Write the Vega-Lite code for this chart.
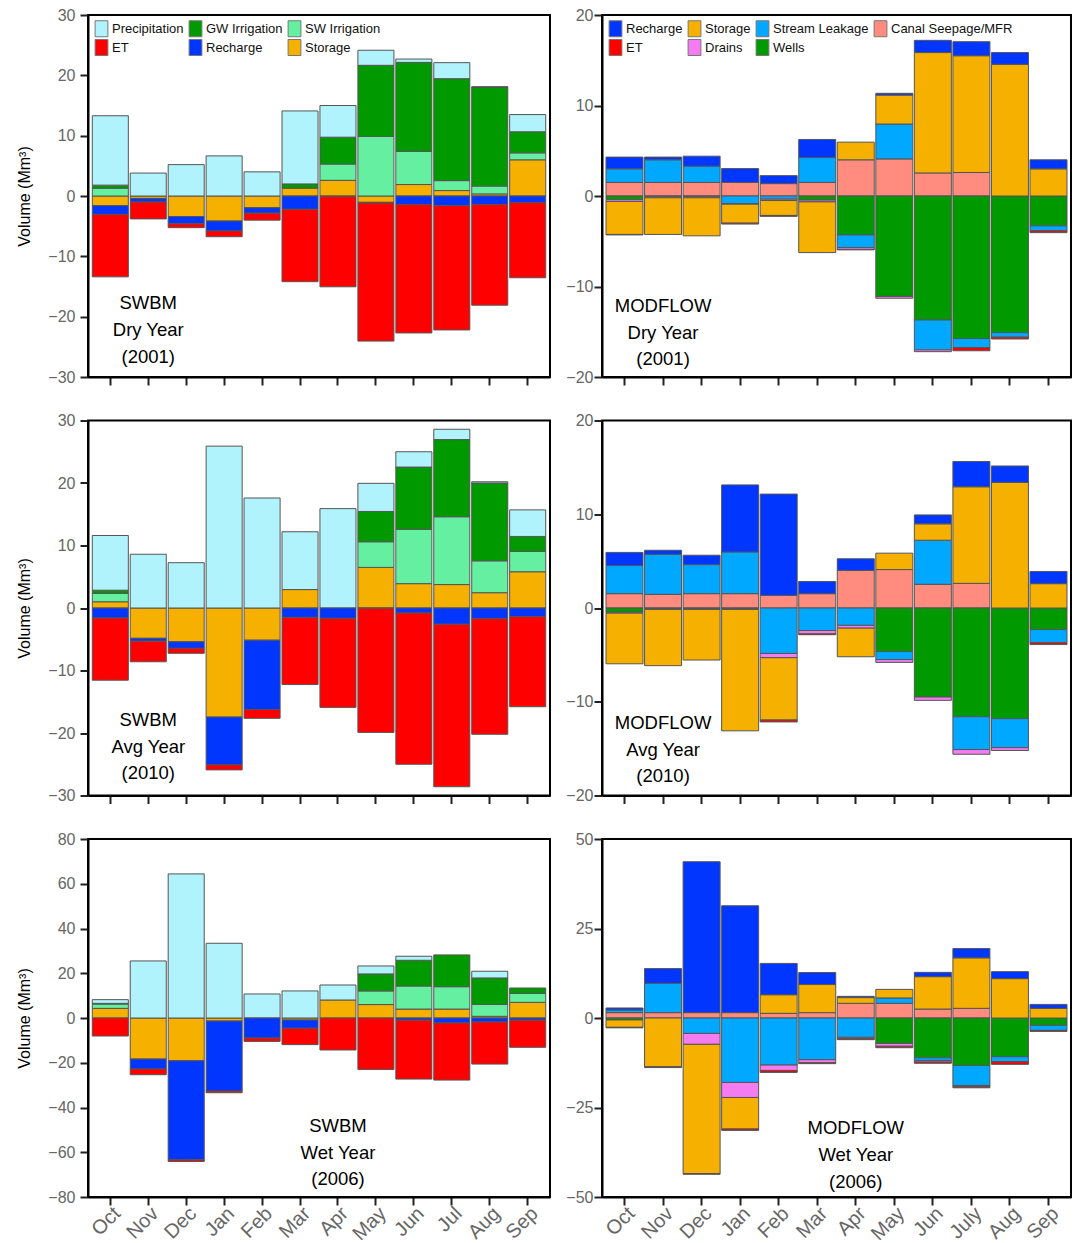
{
  "$schema": "https://vega.github.io/schema/vega-lite/v6.json",
  "background": "white",
  "padding": {"left": 15, "top": 6, "right": 2, "bottom": 0},
  "bounds": "flush",
  "columns": 2,
  "spacing": {"row": 43.5, "column": 52},
  "resolve": {"scale": {"color": "independent"}, "legend": {"color": "independent"}},
  "config": {
    "font": "Liberation Sans",
    "view": {"stroke": "#000", "strokeWidth": 2},
    "axis": {
      "grid": false,
      "domainColor": "#000",
      "domainWidth": 2,
      "tickColor": "#222",
      "tickWidth": 2,
      "tickSize": 8,
      "labelColor": "#666",
      "labelFont": "Liberation Sans",
      "labelFontSize": 16,
      "labelPadding": 4,
      "titleFont": "Liberation Sans",
      "titleFontSize": 16,
      "titleFontWeight": "normal",
      "titleColor": "#000"
    },
    "legend": {
      "orient": "top-left",
      "direction": "horizontal",
      "offset": 5,
      "padding": 0,
      "title": null,
      "symbolType": "M-0.8,-1H0.8V1H-0.8Z",
      "symbolSize": 256,
      "symbolStrokeColor": "#777",
      "symbolStrokeWidth": 1,
      "symbolOpacity": 1,
      "labelFont": "Liberation Sans",
      "labelFontSize": 13,
      "labelColor": "#111",
      "labelOffset": 2,
      "labelLimit": 0,
      "rowPadding": -6,
      "columnPadding": 3
    },
    "text": {"font": "Liberation Sans", "color": "#000"}
  },
  "datasets": {
    "swbm_parts": [
      {"key": "S", "name": "Storage", "rank": 0},
      {"key": "SW", "name": "SW Irrigation", "rank": 1},
      {"key": "GW", "name": "GW Irrigation", "rank": 2},
      {"key": "P", "name": "Precipitation", "rank": 3},
      {"key": "R", "name": "Recharge", "rank": 4},
      {"key": "ET", "name": "ET", "rank": 5}
    ],
    "mf_parts": [
      {"key": "CS", "name": "Canal Seepage/MFR", "rank": 0},
      {"key": "W", "name": "Wells", "rank": 1},
      {"key": "SL", "name": "Stream Leakage", "rank": 2},
      {"key": "D", "name": "Drains", "rank": 3},
      {"key": "S", "name": "Storage", "rank": 4},
      {"key": "R", "name": "Recharge", "rank": 5},
      {"key": "ET", "name": "ET", "rank": 6}
    ],
    "swbm_dry": [
      {"m": "Oct", "S": -1.6, "SW": 1.3, "GW": 0.5, "P": 11.5, "R": -1.45, "ET": -10.35},
      {"m": "Nov", "S": -0.4, "P": 3.8, "R": -0.6, "ET": -2.8},
      {"m": "Dec", "S": -3.4, "P": 5.2, "R": -1.2, "ET": -0.65},
      {"m": "Jan", "S": -4.15, "P": 6.65, "R": -1.65, "ET": -0.95},
      {"m": "Feb", "S": -1.95, "P": 4.0, "R": -0.9, "ET": -1.15},
      {"m": "Mar", "S": 1.3, "GW": 0.7, "P": 12.1, "R": -2.2, "ET": -12.0},
      {"m": "Apr", "S": 2.6, "SW": 2.7, "GW": 4.45, "P": 5.25, "R": -0.1, "ET": -14.95},
      {"m": "May", "S": -1.05, "SW": 9.86, "GW": 11.8, "P": 2.5, "R": -0.1, "ET": -22.9},
      {"m": "Jun", "S": 1.9, "SW": 5.5, "GW": 14.75, "P": 0.55, "R": -1.4, "ET": -21.3},
      {"m": "Jul", "S": 0.9, "SW": 1.65, "GW": 16.9, "P": 2.65, "R": -1.6, "ET": -20.6},
      {"m": "Aug", "S": 0.35, "SW": 1.3, "GW": 16.4, "P": 0.05, "R": -1.4, "ET": -16.7},
      {"m": "Sep", "S": 6.0, "SW": 1.15, "GW": 3.5, "P": 2.85, "R": -1.1, "ET": -12.45}
    ],
    "swbm_avg": [
      {"m": "Oct", "S": 1.0, "SW": 1.35, "GW": 0.5, "P": 8.75, "R": -1.6, "ET": -9.95},
      {"m": "Nov", "S": -4.85, "P": 8.6, "R": -0.45, "ET": -3.3},
      {"m": "Dec", "S": -5.4, "P": 7.25, "R": -1.05, "ET": -0.8},
      {"m": "Jan", "S": -17.45, "P": 25.9, "R": -7.65, "ET": -0.8},
      {"m": "Feb", "S": -5.15, "P": 17.6, "R": -11.1, "ET": -1.4},
      {"m": "Mar", "S": 2.95, "P": 9.25, "R": -1.5, "ET": -10.75},
      {"m": "Apr", "P": 15.9, "R": -1.65, "ET": -14.25},
      {"m": "May", "S": 6.5, "SW": 4.1, "GW": 4.85, "P": 4.5, "R": -0.05, "ET": -19.85},
      {"m": "Jun", "S": 3.9, "SW": 8.7, "GW": 9.95, "P": 2.45, "R": -0.8, "ET": -24.2},
      {"m": "Jul", "S": 3.75, "SW": 10.85, "GW": 12.35, "P": 1.65, "R": -2.6, "ET": -26.0},
      {"m": "Aug", "S": 2.45, "SW": 5.1, "GW": 12.45, "P": 0.2, "R": -1.7, "ET": -18.5},
      {"m": "Sep", "S": 5.8, "SW": 3.25, "GW": 2.4, "P": 4.25, "R": -1.4, "ET": -14.4}
    ],
    "swbm_wet": [
      {"m": "Oct", "S": 4.3, "SW": 1.95, "GW": 0.3, "P": 1.65, "ET": -8.05},
      {"m": "Nov", "S": -18.35, "P": 25.5, "R": -4.45, "ET": -2.55},
      {"m": "Dec", "S": -19.1, "P": 64.4, "R": -44.3, "ET": -0.75},
      {"m": "Jan", "S": -1.35, "P": 33.4, "R": -31.3, "ET": -0.75},
      {"m": "Feb", "P": 10.74, "R": -8.95, "ET": -1.5},
      {"m": "Mar", "S": -0.9, "P": 12.1, "R": -3.7, "ET": -7.3},
      {"m": "Apr", "S": 8.05, "P": 6.7, "ET": -14.3},
      {"m": "May", "S": 6.0, "SW": 6.1, "GW": 7.6, "P": 3.55, "ET": -23.0},
      {"m": "Jun", "S": 4.0, "SW": 10.3, "GW": 11.5, "P": 1.8, "R": -1.0, "ET": -26.3},
      {"m": "Jul", "S": 4.0, "SW": 10.0, "GW": 14.2, "R": -2.2, "ET": -25.55},
      {"m": "Aug", "S": 0.75, "SW": 5.35, "GW": 11.8, "P": 3.0, "R": -1.8, "ET": -18.8},
      {"m": "Sep", "S": 7.0, "SW": 4.0, "GW": 2.4, "R": -1.0, "ET": -12.1}
    ],
    "mf_dry": [
      {"m": "Oct", "CS": 1.5, "SL": 1.5, "R": 1.3, "W": -0.4, "D": -0.2, "S": -3.65, "ET": -0.05},
      {"m": "Nov", "CS": 1.5, "SL": 2.5, "R": 0.3, "W": -0.05, "D": -0.15, "S": -4.05},
      {"m": "Dec", "CS": 1.5, "SL": 1.8, "R": 1.1, "W": -0.05, "D": -0.15, "S": -4.2},
      {"m": "Jan", "CS": 1.5, "R": 1.53, "SL": -0.85, "D": -0.05, "S": -2.1, "ET": -0.1},
      {"m": "Feb", "CS": 1.37, "R": 0.88, "SL": -0.35, "D": -0.15, "S": -1.65, "ET": -0.1},
      {"m": "Mar", "CS": 1.5, "SL": 2.75, "R": 2.0, "W": -0.45, "D": -0.2, "S": -5.6},
      {"m": "Apr", "CS": 4.0, "S": 1.95, "W": -4.3, "SL": -1.4, "D": -0.2, "ET": -0.05},
      {"m": "May", "CS": 4.1, "SL": 3.85, "S": 3.2, "R": 0.2, "W": -11.1, "D": -0.2},
      {"m": "Jun", "CS": 2.55, "S": 13.3, "R": 1.35, "W": -13.7, "SL": -3.3, "D": -0.2},
      {"m": "Jul", "CS": 2.6, "S": 12.9, "R": 1.55, "W": -15.75, "SL": -1.0, "ET": -0.35},
      {"m": "Aug", "S": 14.55, "R": 1.3, "W": -15.1, "SL": -0.5, "ET": -0.2},
      {"m": "Sep", "S": 3.0, "R": 1.0, "W": -3.3, "SL": -0.55, "ET": -0.2}
    ],
    "mf_avg": [
      {"m": "Oct", "CS": 1.53, "SL": 3.0, "R": 1.4, "W": -0.45, "D": -0.1, "S": -5.4},
      {"m": "Nov", "CS": 1.46, "SL": 4.27, "R": 0.43, "W": -0.05, "D": -0.1, "S": -6.0},
      {"m": "Dec", "CS": 1.53, "SL": 3.1, "R": 1.0, "W": -0.05, "D": -0.1, "S": -5.4},
      {"m": "Jan", "CS": 1.53, "SL": 4.45, "R": 7.15, "W": -0.05, "D": -0.1, "S": -12.95},
      {"m": "Feb", "CS": 1.35, "R": 10.8, "SL": -4.85, "D": -0.45, "S": -6.65, "ET": -0.2},
      {"m": "Mar", "CS": 1.53, "R": 1.3, "SL": -2.4, "D": -0.35, "ET": -0.1},
      {"m": "Apr", "CS": 4.0, "R": 1.25, "SL": -1.85, "D": -0.3, "S": -3.05},
      {"m": "May", "CS": 4.1, "S": 1.75, "W": -4.65, "SL": -0.85, "D": -0.3},
      {"m": "Jun", "CS": 2.53, "SL": 4.7, "S": 1.75, "R": 0.95, "W": -9.5, "D": -0.35},
      {"m": "Jul", "CS": 2.63, "S": 10.3, "R": 2.7, "W": -11.6, "SL": -3.5, "D": -0.5},
      {"m": "Aug", "S": 13.4, "R": 1.75, "W": -11.8, "SL": -3.1, "D": -0.3},
      {"m": "Sep", "S": 2.6, "R": 1.3, "W": -2.3, "SL": -1.4, "ET": -0.2}
    ],
    "mf_wet": [
      {"m": "Oct", "CS": 1.5, "SL": 0.75, "R": 0.55, "W": -0.55, "S": -2.05, "ET": -0.15},
      {"m": "Nov", "CS": 1.5, "SL": 8.2, "R": 4.1, "S": -13.6, "ET": -0.25},
      {"m": "Dec", "CS": 1.5, "R": 42.15, "SL": -4.3, "D": -3.05, "S": -36.1, "ET": -0.2},
      {"m": "Jan", "CS": 1.5, "R": 29.85, "SL": -18.0, "D": -4.2, "S": -8.8, "ET": -0.4},
      {"m": "Feb", "CS": 1.3, "S": 5.2, "R": 8.75, "SL": -13.15, "D": -1.5, "ET": -0.55},
      {"m": "Mar", "CS": 1.5, "S": 7.85, "R": 3.35, "SL": -11.65, "D": -0.85, "ET": -0.25},
      {"m": "Apr", "CS": 4.1, "S": 1.6, "R": 0.35, "SL": -5.4, "D": -0.4, "ET": -0.25},
      {"m": "May", "CS": 4.1, "SL": 1.5, "S": 2.4, "W": -7.1, "D": -0.8, "ET": -0.4},
      {"m": "Jun", "CS": 2.5, "S": 9.05, "R": 1.2, "W": -11.1, "SL": -0.75, "D": -0.45, "ET": -0.35},
      {"m": "Jul", "CS": 2.7, "S": 14.1, "R": 2.6, "W": -13.25, "SL": -5.6, "D": -0.35, "ET": -0.3},
      {"m": "Aug", "S": 11.0, "R": 1.95, "W": -10.8, "SL": -1.4, "ET": -0.75},
      {"m": "Sep", "S": 2.7, "R": 1.1, "W": -2.05, "SL": -1.4, "ET": -0.3}
    ]
  },
  "concat": [
    {
      "width": 462,
      "height": 362,
      "layer": [
        {
          "data": {"name": "swbm_dry"},
          "transform": [
            {"fold": ["S", "SW", "GW", "P", "R", "ET"], "as": ["key", "v"]},
            {"filter": "isValid(datum.v)"},
            {"lookup": "key", "from": {"data": {"name": "swbm_parts"}, "key": "key", "fields": ["name", "rank"]}}
          ],
          "mark": {"type": "bar", "stroke": "#555", "strokeWidth": 1},
          "encoding": {
            "x": {"field": "m", "type": "ordinal", "scale": {"domain": ["Oct", "Nov", "Dec", "Jan", "Feb", "Mar", "Apr", "May", "Jun", "Jul", "Aug", "Sep"], "paddingInner": 0.05, "paddingOuter": 0.113}, "axis": {"labels": false, "title": null}},
            "y": {"field": "v", "type": "quantitative", "stack": "zero", "scale": {"domain": [-30, 30], "nice": false}, "axis": {"values": [-30, -20, -10, 0, 10, 20, 30], "title": "Volume (Mm³)", "titlePadding": 15, "labelPadding": 5}},
            "color": {"field": "name", "type": "nominal", "scale": {"domain": ["Precipitation", "GW Irrigation", "SW Irrigation", "ET", "Recharge", "Storage"], "range": ["#b0f3fc", "#009a00", "#64f0a0", "#ff0000", "#0036ff", "#f5b000"]}, "legend": {"columns": 3}},
            "order": {"field": "rank", "type": "quantitative"}
          }
        },
        {
          "data": {"values": [{}]},
          "mark": {"type": "text", "text": ["SWBM", "Dry Year", "(2001)"], "fontSize": 18.5, "lineHeight": 26.7, "align": "center", "baseline": "middle"},
          "encoding": {"x": {"datum": "Nov", "type": "ordinal"}, "y": {"datum": -17.8, "type": "quantitative"}}
        }
      ]
    },
    {
      "width": 469,
      "height": 362,
      "layer": [
        {
          "data": {"name": "mf_dry"},
          "transform": [
            {"fold": ["CS", "W", "SL", "D", "S", "R", "ET"], "as": ["key", "v"]},
            {"filter": "isValid(datum.v)"},
            {"lookup": "key", "from": {"data": {"name": "mf_parts"}, "key": "key", "fields": ["name", "rank"]}}
          ],
          "mark": {"type": "bar", "stroke": "#555", "strokeWidth": 1},
          "encoding": {
            "x": {"field": "m", "type": "ordinal", "scale": {"domain": ["Oct", "Nov", "Dec", "Jan", "Feb", "Mar", "Apr", "May", "Jun", "Jul", "Aug", "Sep"], "paddingInner": 0.04, "paddingOuter": 0.104}, "axis": {"labels": false, "title": null}},
            "y": {"field": "v", "type": "quantitative", "stack": "zero", "scale": {"domain": [-20, 20], "nice": false}, "axis": {"values": [-20, -10, 0, 10, 20], "title": null, "labelPadding": 1}},
            "color": {"field": "name", "type": "nominal", "scale": {"domain": ["Recharge", "Storage", "Stream Leakage", "Canal Seepage/MFR", "ET", "Drains", "Wells"], "range": ["#0036ff", "#f5b000", "#00a8ff", "#ff8c7e", "#ff0000", "#f47cf0", "#009a00"]}, "legend": {"columns": 4}},
            "order": {"field": "rank", "type": "quantitative"}
          }
        },
        {
          "data": {"values": [{}]},
          "mark": {"type": "text", "text": ["MODFLOW", "Dry Year", "(2001)"], "fontSize": 18.5, "lineHeight": 26.7, "align": "center", "baseline": "middle"},
          "encoding": {"x": {"datum": "Nov", "type": "ordinal"}, "y": {"datum": -12.15, "type": "quantitative"}}
        }
      ]
    },
    {
      "width": 462,
      "height": 375,
      "layer": [
        {
          "data": {"name": "swbm_avg"},
          "transform": [
            {"fold": ["S", "SW", "GW", "P", "R", "ET"], "as": ["key", "v"]},
            {"filter": "isValid(datum.v)"},
            {"lookup": "key", "from": {"data": {"name": "swbm_parts"}, "key": "key", "fields": ["name", "rank"]}}
          ],
          "mark": {"type": "bar", "stroke": "#555", "strokeWidth": 1},
          "encoding": {
            "x": {"field": "m", "type": "ordinal", "scale": {"domain": ["Oct", "Nov", "Dec", "Jan", "Feb", "Mar", "Apr", "May", "Jun", "Jul", "Aug", "Sep"], "paddingInner": 0.05, "paddingOuter": 0.113}, "axis": {"labels": false, "title": null}},
            "y": {"field": "v", "type": "quantitative", "stack": "zero", "scale": {"domain": [-30, 30], "nice": false}, "axis": {"values": [-30, -20, -10, 0, 10, 20, 30], "title": "Volume (Mm³)", "titlePadding": 15, "labelPadding": 5}},
            "color": {"field": "name", "type": "nominal", "scale": {"domain": ["Precipitation", "GW Irrigation", "SW Irrigation", "ET", "Recharge", "Storage"], "range": ["#b0f3fc", "#009a00", "#64f0a0", "#ff0000", "#0036ff", "#f5b000"]}, "legend": null},
            "order": {"field": "rank", "type": "quantitative"}
          }
        },
        {
          "data": {"values": [{}]},
          "mark": {"type": "text", "text": ["SWBM", "Avg Year", "(2010)"], "fontSize": 18.5, "lineHeight": 26.7, "align": "center", "baseline": "middle"},
          "encoding": {"x": {"datum": "Nov", "type": "ordinal"}, "y": {"datum": -17.9, "type": "quantitative"}}
        }
      ]
    },
    {
      "width": 469,
      "height": 375,
      "layer": [
        {
          "data": {"name": "mf_avg"},
          "transform": [
            {"fold": ["CS", "W", "SL", "D", "S", "R", "ET"], "as": ["key", "v"]},
            {"filter": "isValid(datum.v)"},
            {"lookup": "key", "from": {"data": {"name": "mf_parts"}, "key": "key", "fields": ["name", "rank"]}}
          ],
          "mark": {"type": "bar", "stroke": "#555", "strokeWidth": 1},
          "encoding": {
            "x": {"field": "m", "type": "ordinal", "scale": {"domain": ["Oct", "Nov", "Dec", "Jan", "Feb", "Mar", "Apr", "May", "Jun", "Jul", "Aug", "Sep"], "paddingInner": 0.04, "paddingOuter": 0.104}, "axis": {"labels": false, "title": null}},
            "y": {"field": "v", "type": "quantitative", "stack": "zero", "scale": {"domain": [-20, 20], "nice": false}, "axis": {"values": [-20, -10, 0, 10, 20], "title": null, "labelPadding": 1}},
            "color": {"field": "name", "type": "nominal", "scale": {"domain": ["Recharge", "Storage", "Stream Leakage", "Canal Seepage/MFR", "ET", "Drains", "Wells"], "range": ["#0036ff", "#f5b000", "#00a8ff", "#ff8c7e", "#ff0000", "#f47cf0", "#009a00"]}, "legend": null},
            "order": {"field": "rank", "type": "quantitative"}
          }
        },
        {
          "data": {"values": [{}]},
          "mark": {"type": "text", "text": ["MODFLOW", "Avg Year", "(2010)"], "fontSize": 18.5, "lineHeight": 26.7, "align": "center", "baseline": "middle"},
          "encoding": {"x": {"datum": "Nov", "type": "ordinal"}, "y": {"datum": -12.25, "type": "quantitative"}}
        }
      ]
    },
    {
      "width": 462,
      "height": 358,
      "layer": [
        {
          "data": {"name": "swbm_wet"},
          "transform": [
            {"fold": ["S", "SW", "GW", "P", "R", "ET"], "as": ["key", "v"]},
            {"filter": "isValid(datum.v)"},
            {"lookup": "key", "from": {"data": {"name": "swbm_parts"}, "key": "key", "fields": ["name", "rank"]}}
          ],
          "mark": {"type": "bar", "stroke": "#555", "strokeWidth": 1},
          "encoding": {
            "x": {"field": "m", "type": "ordinal", "scale": {"domain": ["Oct", "Nov", "Dec", "Jan", "Feb", "Mar", "Apr", "May", "Jun", "Jul", "Aug", "Sep"], "paddingInner": 0.05, "paddingOuter": 0.113}, "axis": {"title": null, "labelAngle": -45, "labelFontSize": 20, "labelPadding": -2}},
            "y": {"field": "v", "type": "quantitative", "stack": "zero", "scale": {"domain": [-80, 80], "nice": false}, "axis": {"values": [-80, -60, -40, -20, 0, 20, 40, 60, 80], "title": "Volume (Mm³)", "titlePadding": 15, "labelPadding": 5}},
            "color": {"field": "name", "type": "nominal", "scale": {"domain": ["Precipitation", "GW Irrigation", "SW Irrigation", "ET", "Recharge", "Storage"], "range": ["#b0f3fc", "#009a00", "#64f0a0", "#ff0000", "#0036ff", "#f5b000"]}, "legend": null},
            "order": {"field": "rank", "type": "quantitative"}
          }
        },
        {
          "data": {"values": [{}]},
          "mark": {"type": "text", "text": ["SWBM", "Wet Year", "(2006)"], "fontSize": 18.5, "lineHeight": 26.7, "align": "center", "baseline": "middle"},
          "encoding": {"x": {"datum": "Apr", "type": "ordinal"}, "y": {"datum": -48.3, "type": "quantitative"}}
        }
      ]
    },
    {
      "width": 469,
      "height": 358,
      "layer": [
        {
          "data": {"name": "mf_wet"},
          "transform": [
            {"fold": ["CS", "W", "SL", "D", "S", "R", "ET"], "as": ["key", "v"]},
            {"filter": "isValid(datum.v)"},
            {"lookup": "key", "from": {"data": {"name": "mf_parts"}, "key": "key", "fields": ["name", "rank"]}}
          ],
          "mark": {"type": "bar", "stroke": "#555", "strokeWidth": 1},
          "encoding": {
            "x": {"field": "m", "type": "ordinal", "scale": {"domain": ["Oct", "Nov", "Dec", "Jan", "Feb", "Mar", "Apr", "May", "Jun", "Jul", "Aug", "Sep"], "paddingInner": 0.04, "paddingOuter": 0.104}, "axis": {"title": null, "labelAngle": -45, "labelFontSize": 20, "labelPadding": -2, "labelExpr": "datum.value == 'Jul' ? 'July' : datum.value"}},
            "y": {"field": "v", "type": "quantitative", "stack": "zero", "scale": {"domain": [-50, 50], "nice": false}, "axis": {"values": [-50, -25, 0, 25, 50], "title": null, "labelPadding": 1}},
            "color": {"field": "name", "type": "nominal", "scale": {"domain": ["Recharge", "Storage", "Stream Leakage", "Canal Seepage/MFR", "ET", "Drains", "Wells"], "range": ["#0036ff", "#f5b000", "#00a8ff", "#ff8c7e", "#ff0000", "#f47cf0", "#009a00"]}, "legend": null},
            "order": {"field": "rank", "type": "quantitative"}
          }
        },
        {
          "data": {"values": [{}]},
          "mark": {"type": "text", "text": ["MODFLOW", "Wet Year", "(2006)"], "fontSize": 18.5, "lineHeight": 26.7, "align": "center", "baseline": "middle"},
          "encoding": {"x": {"datum": "Apr", "type": "ordinal"}, "y": {"datum": -30.8, "type": "quantitative"}}
        }
      ]
    }
  ]
}
